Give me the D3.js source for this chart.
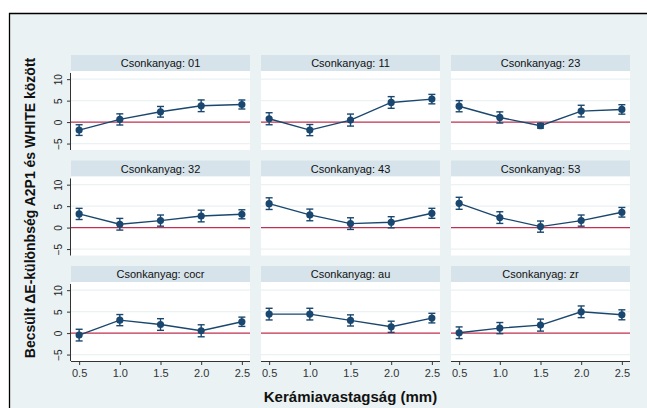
<!DOCTYPE html>
<html>
<head>
<meta charset="utf-8">
<script src="https://cdn.jsdelivr.net/npm/d3@7"></script>
<style>
  body { margin: 0; background: #fff; }
  svg { display: block; font-family: "Liberation Sans", Arial, sans-serif; }
</style>
</head>
<body>
<div id="chart"></div>
<script>
const thickness = [0.5, 1.0, 1.5, 2.0, 2.5];
const groups = ["01", "11", "23", "32", "43", "53", "cocr", "au", "zr"];
// estimated margins (point estimates) and CI half-widths, per group
const estimates = [
  [-1.86, 0.62, 2.4, 3.8, 4.1],
  [0.78, -1.86, 0.47, 4.57, 5.35],
  [3.7, 1.08, -0.85, 2.56, 2.95],
  [3.18, 0.78, 1.63, 2.7, 3.1],
  [5.58, 2.95, 0.93, 1.24, 3.33],
  [5.66, 2.33, 0.23, 1.63, 3.57],
  [-0.47, 3.02, 2.0, 0.54, 2.64],
  [4.42, 4.42, 2.95, 1.47, 3.49],
  [0.08, 1.16, 1.86, 4.96, 4.26]
];
const ciHalf = [
  [1.24, 1.3, 1.24, 1.36, 1.05],
  [1.4, 1.3, 1.4, 1.36, 1.1],
  [1.3, 1.3, 0.55, 1.36, 1.1],
  [1.3, 1.36, 1.3, 1.36, 1.05],
  [1.36, 1.36, 1.36, 1.3, 1.16],
  [1.4, 1.36, 1.3, 1.3, 1.12],
  [1.36, 1.3, 1.36, 1.4, 1.08],
  [1.36, 1.36, 1.3, 1.3, 1.12],
  [1.36, 1.3, 1.4, 1.36, 1.16]
];
const yTicks = [-5, 0, 5, 10];
const xTicks = [0.5, 1.0, 1.5, 2.0, 2.5];

const W = 647, H = 408;
const colLeft = [71, 261, 451];
const rowTop = [55, 160.5, 266];
const pw = 179, stripH = 16, ph = 79;

const navy = "#1a476f", red = "#c0304f";

const svg = d3.select("#chart").append("svg")
  .attr("width", W).attr("height", H);

// outer graph region
svg.append("rect").attr("x", 9).attr("y", 13).attr("width", W - 9).attr("height", H - 13)
  .attr("fill", "#eaf2f3");
svg.append("path").attr("d", `M9.5,${H} V13.5 H${W}`)
  .attr("fill", "none").attr("stroke", "#000").attr("stroke-width", 1.3);

const x = d3.scaleLinear().domain([0.4, 2.6]).range([0, pw]);
const y = d3.scaleLinear().domain([-6.5, 11.9]).range([ph, 0]);

groups.forEach((g, i) => {
  const col = i % 3, row = Math.floor(i / 3);
  const panel = svg.append("g")
    .attr("transform", `translate(${colLeft[col]},${rowTop[row]})`);

  // strip
  panel.append("rect").attr("width", pw).attr("height", stripH).attr("fill", "#d6e3ea");
  panel.append("text")
    .attr("x", pw / 2).attr("y", stripH / 2 + 4)
    .attr("text-anchor", "middle").attr("font-size", 11).attr("fill", "#111")
    .text(`Csonkanyag: ${g}`);

  const plot = panel.append("g").attr("transform", `translate(0,${stripH})`);
  plot.append("rect").attr("width", pw).attr("height", ph).attr("fill", "#fff");

  // gridlines
  plot.selectAll("line.grid").data(yTicks.filter(t => t !== 0)).enter()
    .append("line").attr("class", "grid")
    .attr("x1", 0).attr("x2", pw)
    .attr("y1", d => y(d)).attr("y2", d => y(d))
    .attr("stroke", "#eaf2f3").attr("stroke-width", 1.2);

  // reference line at 0
  plot.append("line")
    .attr("x1", 0).attr("x2", pw).attr("y1", y(0)).attr("y2", y(0))
    .attr("stroke", red).attr("stroke-width", 1.4);

  const pts = thickness.map((t, k) => ({ t, v: estimates[i][k], h: ciHalf[i][k] }));

  // connecting line
  plot.append("path").datum(pts)
    .attr("fill", "none").attr("stroke", navy).attr("stroke-width", 1.4)
    .attr("d", d3.line().x(d => x(d.t)).y(d => y(d.v)));

  // error bars
  const eb = plot.selectAll("g.eb").data(pts).enter().append("g").attr("class", "eb")
    .attr("stroke", navy).attr("stroke-width", 1.4);
  eb.append("line")
    .attr("x1", d => x(d.t)).attr("x2", d => x(d.t))
    .attr("y1", d => y(d.v - d.h)).attr("y2", d => y(d.v + d.h));
  eb.append("line")
    .attr("x1", d => x(d.t) - 3.5).attr("x2", d => x(d.t) + 3.5)
    .attr("y1", d => y(d.v - d.h)).attr("y2", d => y(d.v - d.h));
  eb.append("line")
    .attr("x1", d => x(d.t) - 3.5).attr("x2", d => x(d.t) + 3.5)
    .attr("y1", d => y(d.v + d.h)).attr("y2", d => y(d.v + d.h));

  plot.selectAll("circle").data(pts).enter().append("circle")
    .attr("cx", d => x(d.t)).attr("cy", d => y(d.v)).attr("r", 3.6)
    .attr("fill", navy);

  // y axis on first column
  if (col === 0) {
    const ya = plot.append("g")
      .call(d3.axisLeft(y).tickValues(yTicks).tickSize(4).tickFormat(d3.format("d")));
    ya.select(".domain").attr("stroke", "#333").attr("d", `M-0.5,2V${ph}`);
    ya.selectAll(".tick line").attr("stroke", "#333");
    ya.selectAll(".tick text")
      .attr("font-size", 10).attr("fill", "#222")
      .attr("font-family", "Liberation Sans, Arial, sans-serif")
      .attr("transform", "rotate(-90)")
      .attr("x", 0).attr("y", -12).attr("dy", "0.32em")
      .attr("text-anchor", "middle");
  }
  // x axis on last row
  if (row === 2) {
    const xa = plot.append("g").attr("transform", `translate(0,${ph})`)
      .call(d3.axisBottom(x).tickValues(xTicks).tickSize(4).tickFormat(d3.format(".1f")));
    xa.select(".domain").attr("stroke", "#333").attr("d", `M0,0.5H${pw}`);
    xa.selectAll(".tick line").attr("stroke", "#333");
    xa.selectAll(".tick text")
      .attr("font-size", 11).attr("fill", "#333")
      .attr("font-family", "Liberation Sans, Arial, sans-serif")
      .attr("y", 8);
  }
});

// axis titles
svg.append("text")
  .attr("x", (colLeft[0] + colLeft[2] + pw) / 2).attr("y", 402)
  .attr("text-anchor", "middle").attr("font-size", 15).attr("font-weight", "bold")
  .attr("fill", "#111")
  .text("Kerámiavastagság (mm)");

svg.append("text")
  .attr("transform", `translate(35,${(rowTop[0] + rowTop[2] + stripH + ph) / 2}) rotate(-90)`)
  .attr("text-anchor", "middle").attr("font-size", 14).attr("font-weight", "bold")
  .attr("fill", "#111")
  .text("Becsült ΔE-különbség A2P1 és WHITE között");
</script>
</body>
</html>
